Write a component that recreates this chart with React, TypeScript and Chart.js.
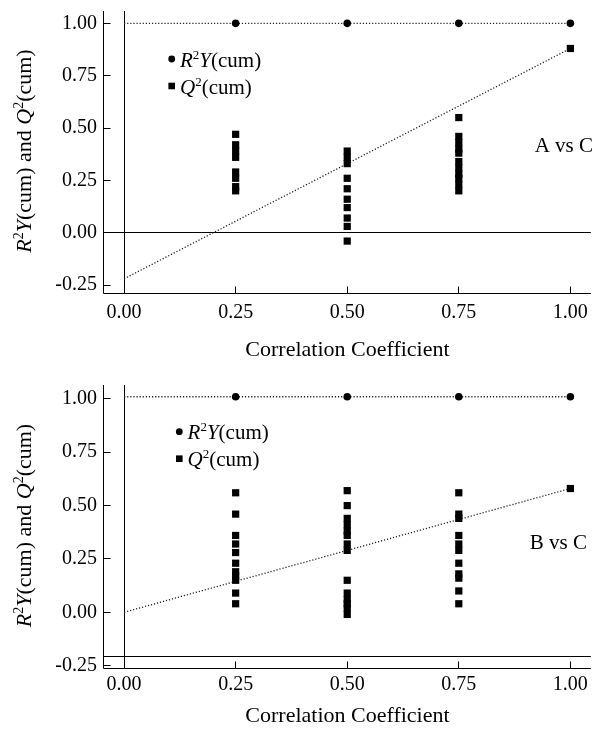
import React, { useEffect, useRef } from "react";
import { Chart, registerables } from "chart.js";

Chart.register(...registerables);

const FONT = '"Liberation Serif", "Times New Roman", Times, serif';

// ---------- shared axis data ----------
const xTickValues = [0, 0.25, 0.5, 0.75, 1.0];
const yTickValues = [-0.25, 0, 0.25, 0.5, 0.75, 1.0];
const permX = [0.25, 0.5, 0.75, 1.0];
const lineX = [0, 1];
const xRange = [-0.045, 1.046];
const xTitle = "Correlation Coefficient";

type Part = { t: string; italic?: boolean; sup?: boolean };
const yTitleParts: Part[] = [
  { t: "R", italic: true },
  { t: "2", sup: true },
  { t: "Y", italic: true },
  { t: "(cum) and " },
  { t: "Q", italic: true },
  { t: "2", sup: true },
  { t: "(cum)" },
];
const legendR2Parts: Part[] = [
  { t: "R", italic: true },
  { t: "2", sup: true },
  { t: "Y", italic: true },
  { t: "(cum)" },
];
const legendQ2Parts: Part[] = [
  { t: "Q", italic: true },
  { t: "2", sup: true },
  { t: "(cum)" },
];

// ---------- panel A: A vs C ----------
const aLabel = "A vs C";
const aR2 = [1.0, 1.0, 1.0, 1.0];
const aQ2At025 = [0.47, 0.42, 0.39, 0.36, 0.29, 0.26, 0.22, 0.2];
const aQ2At050 = [0.39, 0.36, 0.33, 0.26, 0.21, 0.16, 0.12, 0.07, 0.03, -0.04];
const aQ2At075 = [0.55, 0.46, 0.43, 0.4, 0.38, 0.34, 0.31, 0.28, 0.26, 0.23, 0.2];
const aQ2At100 = [0.88];
const aR2Line = [1.0, 1.0];
const aQ2Line = [-0.22, 0.88];
const aRefY = 0;
const aYRange = [-0.288, 1.059];
const aLabelPos = [0.92, 0.385];

// ---------- panel B: B vs C ----------
const bLabel = "B vs C";
const bR2 = [1.01, 1.01, 1.01, 1.01];
const bQ2At025 = [0.56, 0.46, 0.36, 0.32, 0.28, 0.23, 0.19, 0.17, 0.15, 0.09, 0.04];
const bQ2At050 = [0.57, 0.5, 0.44, 0.41, 0.38, 0.36, 0.32, 0.29, 0.15, 0.09, 0.06, 0.04, 0.02, -0.01];
const bQ2At075 = [0.56, 0.46, 0.44, 0.36, 0.32, 0.29, 0.23, 0.18, 0.16, 0.1, 0.04];
const bQ2At100 = [0.58];
const bR2Line = [1.01, 1.01];
const bQ2Line = [0.0, 0.58];
const bRefY = -0.205;
const bYRange = [-0.261, 1.065];
const bLabelPos = [0.909, 0.297];

interface PanelCfg {
  label: string;
  labelPos: number[];
  r2: number[];
  q2Cols: number[][];
  r2Line: number[];
  q2Line: number[];
  refY: number;
  yRange: number[];
  height: number;
  padTop: number;
  xAxisHeight: number;
  xTickPad: number;
  titlePadBottom: number;
  legendDx: number;
  legendDy: number;
}

const panels: PanelCfg[] = [
  {
    label: aLabel,
    labelPos: aLabelPos,
    r2: aR2,
    q2Cols: [aQ2At025, aQ2At050, aQ2At075, aQ2At100],
    r2Line: aR2Line,
    q2Line: aQ2Line,
    refY: aRefY,
    yRange: aYRange,
    height: 366,
    padTop: 11,
    xAxisHeight: 73,
    xTickPad: 8,
    titlePadBottom: 3,
    legendDx: 67.7,
    legendDy: 48,
  },
  {
    label: bLabel,
    labelPos: bLabelPos,
    r2: bR2,
    q2Cols: [bQ2At025, bQ2At050, bQ2At075, bQ2At100],
    r2Line: bR2Line,
    q2Line: bQ2Line,
    refY: bRefY,
    yRange: bYRange,
    height: 367,
    padTop: 19,
    xAxisHeight: 65,
    xTickPad: 5,
    titlePadBottom: 4,
    legendDx: 75.3,
    legendDy: 46.7,
  },
];

function richWidth(ctx: CanvasRenderingContext2D, parts: Part[], size: number) {
  let w = 0;
  for (const p of parts) {
    const fs = p.sup ? Math.round(size * 0.62) : size;
    ctx.font = `${p.italic ? "italic " : ""}${fs}px ${FONT}`;
    w += ctx.measureText(p.t).width;
  }
  return w;
}

function drawRich(ctx: CanvasRenderingContext2D, parts: Part[], x: number, y: number, size: number) {
  let cx = x;
  ctx.textBaseline = "alphabetic";
  ctx.textAlign = "left";
  for (const p of parts) {
    const fs = p.sup ? Math.round(size * 0.62) : size;
    ctx.font = `${p.italic ? "italic " : ""}${fs}px ${FONT}`;
    const dy = p.sup ? -size * 0.38 : 0;
    ctx.fillText(p.t, cx, y + dy);
    cx += ctx.measureText(p.t).width;
  }
}

function line(ctx: CanvasRenderingContext2D, x1: number, y1: number, x2: number, y2: number) {
  ctx.beginPath();
  ctx.moveTo(x1, y1);
  ctx.lineTo(x2, y2);
  ctx.stroke();
}

function Panel({ cfg }: { cfg: PanelCfg }) {
  const ref = useRef<HTMLCanvasElement | null>(null);
  useEffect(() => {
    if (!ref.current) return;
    const q2Points: { x: number; y: number }[] = [];
    cfg.q2Cols.forEach((col, i) => col.forEach((v) => q2Points.push({ x: permX[i], y: v })));

    const deco = {
      id: "deco",
      beforeDatasetsDraw(chart: any) {
        const { ctx, chartArea } = chart;
        const xs = chart.scales.x;
        const ys = chart.scales.y;
        ctx.save();
        ctx.strokeStyle = "#000";
        ctx.lineWidth = 1;
        const L = chartArea.left - 0.5;
        const B = chartArea.bottom + 0.5;
        const T = chartArea.top;
        const R = chartArea.right;
        // axis lines
        line(ctx, L, T, L, B);
        line(ctx, L, B, R, B);
        // reference lines
        const zx = Math.floor(xs.getPixelForValue(0)) + 0.5;
        line(ctx, zx, T, zx, B);
        const ry = Math.floor(ys.getPixelForValue(cfg.refY)) + 0.5;
        line(ctx, L, ry, R, ry);
        // inward ticks
        yTickValues.forEach((v) => {
          const py = Math.floor(ys.getPixelForValue(v)) + 0.5;
          line(ctx, L, py, L + 7, py);
        });
        xTickValues.forEach((v) => {
          const px = Math.floor(xs.getPixelForValue(v)) + 0.5;
          line(ctx, px, B, px, B - 7);
        });
        ctx.restore();
      },
      afterDatasetsDraw(chart: any) {
        const { ctx, chartArea } = chart;
        const xs = chart.scales.x;
        const ys = chart.scales.y;
        ctx.save();
        ctx.fillStyle = "#000";
        // legend
        const lx = chartArea.left + cfg.legendDx;
        const ly1 = chartArea.top + cfg.legendDy;
        const ly2 = ly1 + 27;
        ctx.beginPath();
        ctx.arc(lx, ly1, 3.4, 0, Math.PI * 2);
        ctx.fill();
        ctx.fillRect(lx - 3.3, ly2 - 3.3, 6.6, 6.6);
        drawRich(ctx, legendR2Parts, lx + 8.3, ly1 + 7.7, 21);
        drawRich(ctx, legendQ2Parts, lx + 8.3, ly2 + 7.5, 21);
        // panel label
        ctx.font = `21px ${FONT}`;
        ctx.textAlign = "left";
        ctx.textBaseline = "alphabetic";
        ctx.fillText(cfg.label, xs.getPixelForValue(cfg.labelPos[0]), ys.getPixelForValue(cfg.labelPos[1]));
        // rotated y title
        const w = richWidth(ctx, yTitleParts, 22);
        ctx.translate(31, (chartArea.top + chartArea.bottom) / 2 - 1);
        ctx.rotate(-Math.PI / 2);
        drawRich(ctx, yTitleParts, -w / 2, 0, 22);
        ctx.restore();
      },
    };

    const dotted = {
      showLine: true,
      pointRadius: 0,
      borderColor: "#222",
      borderWidth: 1.3,
      borderDash: [1.2, 1.9],
      fill: false,
    };

    const chart = new Chart(ref.current, {
      type: "scatter",
      data: {
        datasets: [
          {
            label: "R2Y(cum)",
            data: permX.map((x, i) => ({ x, y: cfg.r2[i] })),
            pointStyle: "circle",
            pointRadius: 3.8,
            backgroundColor: "#000",
            borderColor: "#000",
            borderWidth: 0,
          },
          {
            label: "Q2(cum)",
            data: q2Points,
            pointStyle: "rect",
            pointRadius: 5.1,
            backgroundColor: "#000",
            borderColor: "#000",
            borderWidth: 0,
          },
          { label: "R2 fit", data: lineX.map((x, i) => ({ x, y: cfg.r2Line[i] })), ...dotted } as any,
          { label: "Q2 fit", data: lineX.map((x, i) => ({ x, y: cfg.q2Line[i] })), ...dotted } as any,
        ],
      },
      options: {
        responsive: false,
        animation: false,
        devicePixelRatio: 1,
        events: [],
        layout: { padding: { left: 0, top: cfg.padTop, right: 3, bottom: 0 } },
        plugins: { legend: { display: false }, tooltip: { enabled: false } },
        scales: {
          x: {
            type: "linear",
            min: xRange[0],
            max: xRange[1],
            grid: { display: false, drawTicks: false },
            border: { display: false },
            afterBuildTicks: (s: any) => {
              s.ticks = xTickValues.map((v) => ({ value: v }));
            },
            afterFit: (s: any) => {
              s.height = cfg.xAxisHeight;
              s.paddingLeft = 0;
              s.paddingRight = 0;
            },
            ticks: {
              autoSkip: false,
              maxRotation: 0,
              padding: cfg.xTickPad,
              color: "#000",
              font: { family: FONT, size: 20 },
              callback: (v: any) => Number(v).toFixed(2),
            },
            title: {
              display: true,
              text: xTitle,
              color: "#000",
              font: { family: FONT, size: 22 },
              padding: { top: 0, bottom: cfg.titlePadBottom },
            },
          },
          y: {
            type: "linear",
            min: cfg.yRange[0],
            max: cfg.yRange[1],
            grid: { display: false, drawTicks: false },
            border: { display: false },
            afterBuildTicks: (s: any) => {
              s.ticks = yTickValues.map((v) => ({ value: v }));
            },
            afterFit: (s: any) => {
              s.width = 104;
              s.paddingTop = 0;
              s.paddingBottom = 0;
            },
            ticks: {
              autoSkip: false,
              padding: 7,
              color: "#000",
              font: { family: FONT, size: 20 },
              callback: (v: any) => Number(v).toFixed(2),
            },
          },
        },
      } as any,
      plugins: [deco],
    });
    return () => chart.destroy();
  }, [cfg]);
  return <canvas ref={ref} width={596} height={cfg.height} style={{ display: "block", width: 596, height: cfg.height }} />;
}

export default function App() {
  return (
    <div style={{ position: "absolute", left: 0, top: 0, width: 596, height: 733, background: "#fff" }}>
      {panels.map((p, i) => (
        <Panel key={i} cfg={p} />
      ))}
    </div>
  );
}
